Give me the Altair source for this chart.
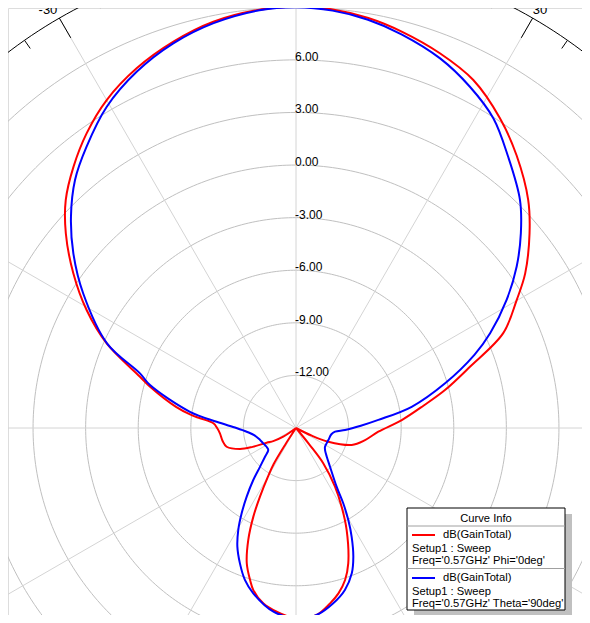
import altair as alt
import pandas as pd

# ---------------- data ----------------
# angle in degrees (0 = top, clockwise positive), gain in dB
red_theta = [-180, -174, -169.4, -165.2, -163.2, -160, -156.9, -154.3, -152.3, -150, -148.2, -147, -145.5,
             -135, -128, -124.4, -120, -116.6, -113.5, -110.6, -105.1, -100, -94, -90, -86.7, -84.2, -83,
             -80, -74.2, -71.8, -65.9, -60.6, -55.2, -49.8, -45.3, -40.4, -35.4, -30, -23.9, -17.6, -11.5,
             -5, 0, 5, 10, 15, 21, 27, 33.4, 39, 45.5, 50.2, 56, 59.9, 65.4, 70.6, 75.7, 80, 85.7, 92.6,
             99.9, 106.9, 113, 116, 119, 130, 139, 141, 142.3, 146.4, 149.9, 153.6, 158.9, 162.1, 165.6,
             169, 173.7, 180]
red_db = [-4.09, -4.46, -4.83, -5.45, -5.94, -6.79, -8.06, -9.39, -10.58, -11.8, -12.6, -13.9, -15.5,
          -16, -15.5, -14.12, -13.5, -13.13, -12.3, -11.59, -10.9, -10.75, -10.65, -10.5, -10.28, -9.5, -9.0,
          -8.05, -6.35, -5.63, -3.17, -1.29, 0.47, 2.19, 3.48, 4.58, 5.62, 6.60, 7.44, 8.12, 8.65,
          8.95, 9.03, 8.97, 8.75, 8.4, 7.9, 7.28, 6.15, 5.0, 3.57, 2.34, 0.77, -0.45, -2.0, -4.48, -6.23,
          -7.6, -8.95, -10.3, -11.0, -11.68, -13.0, -14.0, -15.5, -16, -15.5, -13.8, -12.46, -10.98, -9.81,
          -8.5, -6.72, -5.89, -5.26, -4.81, -4.27, -4.09]

blue_theta = [-180, -173, -165.5, -161.4, -157.5, -153.7, -150.5, -147.5, -144.3, -140.6, -137.1, -132.8,
              -128.5, -122.5, -115.1, -108.4, -100, -94.3, -90, -85.5, -81.3, -73.6, -70.7, -65.9, -57.7,
              -51.9, -46.8, -41.7, -36.7, -30.5, -24.1, -17.7, -11.5, -5, 0, 5, 10, 15, 21.3, 27, 32.5, 38,
              44.5, 49.1, 53.8, 58.7, 64, 67.7, 73.3, 79.6, 84.4, 88, 92.3, 95.4, 100, 110.4, 122.8, 127.2,
              133, 138.7, 145.3, 147.9, 150.4, 152.9, 156, 159, 163.2, 168, 173.7, 180]
blue_db = [-4.09, -4.44, -5.26, -5.86, -6.64, -7.45, -8.31, -9.23, -10.18, -11.16, -11.99, -12.59,
           -12.98, -13.01, -12.94, -12.84, -12.6, -12.18, -11.6, -10.46, -8.88, -6.32, -5.57, -3.2, -0.64,
           1.14, 2.61, 3.95, 5.0, 6.27, 7.26, 8.03, 8.57, 8.92, 9.0, 8.9, 8.65, 8.25, 7.63, 6.85, 5.95, 4.65,
           3.23, 1.97, 0.6, -0.94, -2.68, -4.0, -6.12, -8.29, -10.28, -11.3, -12.2, -12.76, -12.95, -13.03,
           -13.03, -12.92, -12.6, -12.06, -10.93, -9.93, -8.96, -8.03, -6.96, -6.12, -5.35, -4.78, -4.27, -4.09]

ring_levels = [-12, -9, -6, -3, 0, 3, 6, 9]
ring_labels = ["-12.00", "-9.00", "-6.00", "-3.00", "0.00", "3.00", "6.00", "9.00"]
r_min = -15
r_max = 12
spoke_angles = [0, 30, 60, 90, 120, 150, 180, 210, 240, 270, 300, 330]
tick_angles = list(range(0, 360, 5))
angle_label_left = ["-30"]
angle_label_left_pos = [-30]
angle_label_right = ["30"]
angle_label_right_pos = [30]

legend_title = "Curve Info"
series_names = ["dB(GainTotal)", "dB(GainTotal)"]
series_setup = ["Setup1 : Sweep", "Setup1 : Sweep"]
series_freq = ["Freq='0.57GHz' Phi='0deg'", "Freq='0.57GHz' Theta='90deg'"]
series_keys = ["phi0", "theta90"]
series_colors = ["#ff0000", "#0000ff"]

# ---------------- layout ----------------
W, H = 574, 607
CX, CY = 288, 420          # pixel position of the pole inside the plot area
K = 17.53                  # pixels per dB
FONT = "Liberation Sans"

xs = alt.Scale(domain=[-CX / K, (W - CX) / K], nice=False, zero=False)
ys = alt.Scale(domain=[-(H - CY) / K, CY / K], nice=False, zero=False)
X = alt.X("x:Q", scale=xs, axis=None)
Y = alt.Y("y:Q", scale=ys, axis=None)

polar = dict(
    x=f"(max(datum.db, {r_min}) - ({r_min})) * sin(datum.theta * PI / 180)",
    y=f"(max(datum.db, {r_min}) - ({r_min})) * cos(datum.theta * PI / 180)",
)

# curves
curve_df = pd.concat([
    pd.DataFrame({"theta": red_theta, "db": red_db, "s": series_keys[0], "i": range(len(red_theta))}),
    pd.DataFrame({"theta": blue_theta, "db": blue_db, "s": series_keys[1], "i": range(len(blue_theta))}),
])
curves = alt.Chart(curve_df).transform_calculate(**polar).mark_line(
    strokeWidth=2, clip=True, interpolate="catmull-rom"
).encode(
    x=X, y=Y,
    color=alt.Color("s:N", scale=alt.Scale(domain=series_keys, range=series_colors), legend=None),
    detail="s:N",
    order=alt.Order("i:Q"),
)

# rings
ring_df = pd.DataFrame([{"db": lv, "theta": a} for lv in ring_levels for a in range(0, 361, 1)])
rings = alt.Chart(ring_df).transform_calculate(**polar).mark_line(
    stroke="#c0c0c0", strokeWidth=1, clip=True
).encode(x=X, y=Y, detail="db:Q", order="theta:Q")

rim_df = pd.DataFrame([{"db": r_max, "theta": a} for a in range(0, 361, 1)])
rim = alt.Chart(rim_df).transform_calculate(**polar).mark_line(
    stroke="black", strokeWidth=1, clip=True
).encode(x=X, y=Y, order="theta:Q")

# spokes
spokes = alt.Chart(pd.DataFrame({"a": spoke_angles})).transform_calculate(
    x="0", y="0",
    x2=f"({r_max} - ({r_min})) * sin(datum.a * PI / 180)",
    y2=f"({r_max} - ({r_min})) * cos(datum.a * PI / 180)",
).mark_rule(stroke="#d4d4d4", strokeWidth=1, clip=True).encode(
    x=X, y=Y, x2="x2:Q", y2="y2:Q"
)

# rim ticks (inward)
R = r_max - r_min
ticks = alt.Chart(pd.DataFrame({"a": tick_angles})).transform_calculate(
    L="datum.a % 30 == 0 ? 1.3 : 0.57",
).transform_calculate(
    x=f"{R} * sin(datum.a * PI / 180)",
    y=f"{R} * cos(datum.a * PI / 180)",
    x2=f"({R} - datum.L) * sin(datum.a * PI / 180)",
    y2=f"({R} - datum.L) * cos(datum.a * PI / 180)",
).mark_rule(stroke="black", strokeWidth=1, clip=True).encode(x=X, y=Y, x2="x2:Q", y2="y2:Q")

# radial labels
rlab = alt.Chart(pd.DataFrame({"db": ring_levels, "t": ring_labels})).transform_calculate(
    x="0", y=f"datum.db - ({r_min})"
).mark_text(align="left", baseline="alphabetic", dx=-1, dy=1, font=FONT, fontSize=12, color="black").encode(
    x=X, y=Y, text="t:N"
)

# angle labels
alab_l = alt.Chart(pd.DataFrame({"a": angle_label_left_pos, "t": angle_label_left})).transform_calculate(
    x=f"{R} * sin(datum.a * PI / 180)", y=f"{R} * cos(datum.a * PI / 180)"
).mark_text(align="right", baseline="bottom", dx=-2, dy=-1, font=FONT, fontSize=13, color="black").encode(
    x=X, y=Y, text="t:N"
)
alab_r = alt.Chart(pd.DataFrame({"a": angle_label_right_pos, "t": angle_label_right})).transform_calculate(
    x=f"{R} * sin(datum.a * PI / 180)", y=f"{R} * cos(datum.a * PI / 180)"
).mark_text(align="left", baseline="bottom", dx=0, dy=-1, font=FONT, fontSize=13, color="black").encode(
    x=X, y=Y, text="t:N"
)

# ---------------- legend box (Curve Info) ----------------
one = pd.DataFrame({"k": [0]})
LFS = 11.2


def box(x1, y1, x2, y2, fill, stroke=None):
    kw = dict(fill=fill)
    if stroke:
        kw.update(stroke=stroke, strokeWidth=1)
    return alt.Chart(one).mark_rect(**kw).encode(
        x=alt.value(x1), x2=alt.value(x2), y=alt.value(y1), y2=alt.value(y2))


def hline(x1, x2, y, color, width=1):
    return alt.Chart(one).mark_rule(stroke=color, strokeWidth=width).encode(
        x=alt.value(x1), x2=alt.value(x2), y=alt.value(y))


def txt(s, x, y, align="left"):
    return alt.Chart(pd.DataFrame({"t": [s]})).mark_text(
        align=align, baseline="middle", font=FONT, fontSize=LFS, color="black"
    ).encode(x=alt.value(x), y=alt.value(y), text="t:N")


BX1, BY1, BX2, BY2 = 399, 500, 557, 602
legend_layers = [
    box(BX1 + 7, BY1 + 6, BX2 + 7, BY2 + 6, "#c0c0c0"),
    box(BX1, BY1, BX2, BY2, "white", "black"),
    txt(legend_title, (BX1 + BX2) / 2, BY1 + 10.5, align="center"),
    hline(BX1, BX2, BY1 + 18, "#a0a0a0"),
    hline(BX1, BX2, BY1 + 60.5, "#a0a0a0"),
]
for j, top in enumerate([BY1 + 27, BY1 + 70]):
    legend_layers += [
        hline(BX1 + 5, BX1 + 28, top, series_colors[j], 2),
        txt(series_names[j], BX1 + 36, top),
        txt(series_setup[j], BX1 + 5, top + 13.5),
        txt(series_freq[j], BX1 + 5, top + 25.5),
    ]

chart = alt.layer(
    rings, spokes, rim, ticks, rlab, alab_l, alab_r, curves, *legend_layers
).properties(
    width=W, height=H, padding=0,
    autosize=alt.AutoSizeParams(type="none"),
).configure_view(stroke=None).configure(background="white")

chart.save("out.html", embed_options={"renderer": "svg", "actions": False})
